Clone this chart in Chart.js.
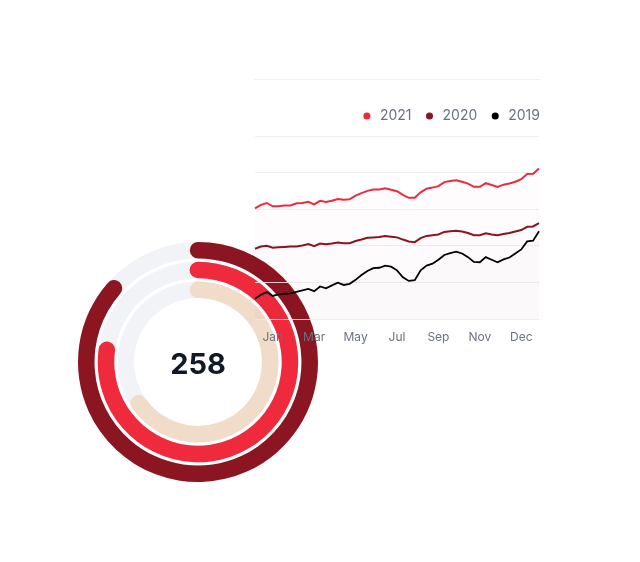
<!DOCTYPE html>
<html>
<head>
<meta charset="utf-8">
<script src="https://cdn.jsdelivr.net/npm/chart.js@4.4.1/dist/chart.umd.min.js"></script>
<style>
  html, body { margin: 0; padding: 0; background: #fff; }
  body { width: 640px; height: 562px; position: relative; overflow: hidden; font-family: Inter, sans-serif; }
  canvas { position: absolute; }
  #pistas, #anillos { left: 73px; top: 237px; }
  #lineas { left: 244px; top: 90px; }
  #total { position: absolute; left: 148px; top: 344px; width: 100px; text-align: center;
           font: 700 29px Inter, sans-serif; color: #111827; line-height: 40px; }
  #borde { position: absolute; left: 254px; top: 79px; width: 286px; height: 1px; background: #eef0f3; }
</style>
</head>
<body>
<div id="borde"></div>
<canvas id="pistas" width="250" height="250"></canvas>
<canvas id="anillos" width="250" height="250"></canvas>
<div id="total">258</div>
<canvas id="lineas" width="306" height="270"></canvas>
<script>
//DATOS
const meses = ['', '', '', 'Jan', '', '', '', '', '', '', 'Mar', '', '', '', '', '', '', 'May', '', '', '', '', '', '',
  'Jul', '', '', '', '', '', '', 'Sep', '', '', '', '', '', '', 'Nov', '', '', '', '', '', '', 'Dec', '', '', ''];
const valores2021 = [302, 312, 317, 308, 308, 310, 310, 316, 317, 320, 313, 323, 320, 323, 328, 326, 327, 337, 344, 350,
  354, 354, 357, 353, 349, 339, 331, 331, 346, 356, 359, 363, 374, 377, 379, 375, 370, 361, 361, 371,
  366, 361, 367, 370, 375, 382, 396, 397, 411];
const valores2020 = [192, 198, 200, 195, 196, 197, 198, 198, 201, 205, 199, 206, 204, 206, 209, 207, 207, 213, 217, 222,
  223, 224, 227, 225, 223, 217, 212, 210, 221, 227, 229, 231, 238, 240, 241, 239, 235, 229, 229, 234,
  231, 229, 232, 235, 239, 243, 252, 253, 262];
const valores2019 = [55, 66, 74, 63, 67, 69, 70, 74, 78, 82, 76, 89, 84, 92, 99, 93, 96, 107, 120, 131,
  139, 140, 146, 143, 133, 114, 104, 106, 133, 146, 151, 162, 175, 180, 184, 179, 169, 156, 155, 169,
  162, 155, 163, 168, 179, 190, 212, 214, 240];
const anillosPct = [88.8, 80, 69]; // porcentaje de cada anillo, de afuera hacia adentro
const anillosRot = [-4.2, -5.2, -6.6]; // la tapa redonda empieza un poco antes de las 12
const ticksY = [0, 100, 200, 300, 400, 500];
//DATOS
//COLORES
const rojo = '#ee2a3c';
const granate = '#8b1520';
const negro = '#000000';
const beige = '#f0dcc8';
const gris = '#f1f3f7';
const coloresAnillos = [granate, rojo, beige];
//COLORES

Chart.defaults.font.family = 'Inter';
Chart.defaults.animation = false;
Chart.defaults.events = [];

//DONA
const grosor = 16.5;
const hueco = 3.25;
function armarAnillos(conValores) {
  const sets = [];
  anillosPct.forEach((pct, i) => {
    if (i > 0) {
      sets.push({ data: [1], backgroundColor: ['rgba(0,0,0,0)'], borderWidth: 0, weight: hueco });
    }
    if (conValores) {
      sets.push({
        data: [pct, 100 - pct],
        backgroundColor: [coloresAnillos[i], 'rgba(0,0,0,0)'],
        borderWidth: 0,
        rotation: anillosRot[i],
        borderRadius: (ctx) => ctx.dataIndex === 0 ? 20 : 0,
        weight: grosor
      });
    } else {
      sets.push({ data: [1], backgroundColor: [gris], borderWidth: 0, weight: grosor });
    }
  });
  return sets;
}
const opcionesDona = {
  responsive: false,
  cutout: '53.3%',
  layout: { padding: 5 },
  plugins: { legend: { display: false }, tooltip: { enabled: false } }
};
new Chart(document.getElementById('pistas'), {
  type: 'doughnut',
  data: { labels: ['pista'], datasets: armarAnillos(false) },
  options: opcionesDona
});
new Chart(document.getElementById('anillos'), {
  type: 'doughnut',
  data: { labels: ['valor', 'resto'], datasets: armarAnillos(true) },
  options: opcionesDona
});
//DONA

//LINEAS
const margenLeyenda = { // separa la leyenda del grafico y la pega al borde derecho
  id: 'margenLeyenda',
  beforeInit(chart) {
    const fitOriginal = chart.legend.fit;
    chart.legend.fit = function () {
      fitOriginal.bind(chart.legend)();
      this.height += 3;
    };
  },
  afterLayout(chart) {
    chart.legend.left += 12;
    chart.legend.right += 12;
  }
};
function serie(label, data, color, relleno, ancho) {
  return {
    label: label,
    data: data,
    borderColor: color,
    backgroundColor: relleno,
    borderWidth: ancho,
    fill: 'origin',
    pointRadius: 0,
    tension: 0
  };
}
new Chart(document.getElementById('lineas'), {
  type: 'line',
  data: {
    labels: meses,
    datasets: [
      serie('2021', valores2021, rojo, 'rgba(238, 42, 60, 0.012)', 2),
      serie('2020', valores2020, granate, 'rgba(139, 21, 32, 0.008)', 2),
      serie('2019', valores2019, negro, 'rgba(90, 90, 160, 0.01)', 1.8)
    ]
  },
  options: {
    responsive: false,
    layout: { padding: { top: 7, left: 10, right: 10, bottom: 4.6 } },
    scales: {
      x: {
        grid: { display: false, drawTicks: false },
        border: { display: false },
        ticks: { autoSkip: false, maxRotation: 0, minRotation: 0, padding: 11, color: '#6b7280', font: { size: 12 } }
      },
      y: {
        min: ticksY[0],
        max: ticksY[ticksY.length - 1],
        afterBuildTicks: (axis) => { axis.ticks = ticksY.map(v => ({ value: v })); },
        grid: { color: 'rgba(234, 236, 240, 0.85)', drawTicks: false },
        border: { display: false },
        ticks: { display: false }
      }
    },
    plugins: {
      tooltip: { enabled: false },
      legend: {
        position: 'top',
        align: 'end',
        labels: {
          usePointStyle: true,
          pointStyle: 'circle',
          boxWidth: 12,
          boxHeight: 5,
          padding: 12,
          color: '#6b7280',
          font: { size: 14 },
          generateLabels: (chart) => Chart.defaults.plugins.legend.labels.generateLabels(chart)
            .map(l => ({ ...l, fillStyle: l.strokeStyle, lineWidth: 0 }))
        }
      }
    }
  },
  plugins: [margenLeyenda]
});
//LINEAS
</script>
</body>
</html>
